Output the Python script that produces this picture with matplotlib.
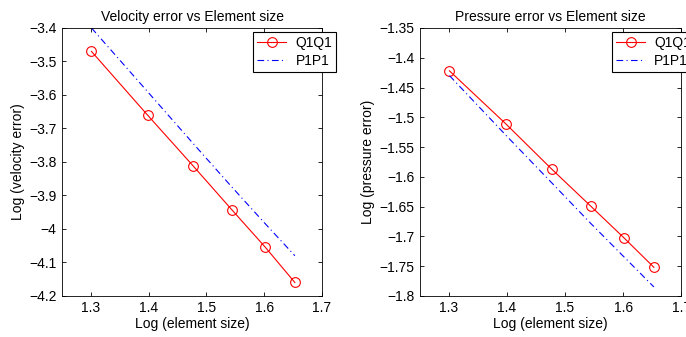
import matplotlib.pyplot as plt

plt.rcParams['font.family'] = ['Liberation Sans', 'DejaVu Sans']
plt.rcParams['font.size'] = 10

# log10 of element size
log_h = [1.301, 1.398, 1.477, 1.544, 1.602, 1.653]

vel_q1q1 = [-3.470, -3.660, -3.812, -3.943, -4.055, -4.160]
vel_p1p1 = [-3.400, -3.590, -3.745, -3.875, -3.985, -4.080]

pres_q1q1 = [-1.422, -1.511, -1.587, -1.649, -1.703, -1.752]
pres_p1p1 = [-1.430, -1.530, -1.610, -1.678, -1.735, -1.785]

panels = [
    ("Velocity error vs Element size", "Log (velocity error)",
     vel_q1q1, vel_p1p1, (-4.2, -3.4), [-4.2, -4.1, -4, -3.9, -3.8, -3.7, -3.6, -3.5, -3.4]),
    ("Pressure error vs Element size", "Log (pressure error)",
     pres_q1q1, pres_p1p1, (-1.8, -1.35), [-1.8, -1.75, -1.7, -1.65, -1.6, -1.55, -1.5, -1.45, -1.4, -1.35]),
]

fig = plt.figure(figsize=(6.86, 3.37), dpi=100)
positions = [[0.0904, 0.122, 0.379, 0.795], [0.612, 0.122, 0.381, 0.795]]

for pos, (title, ylabel, q, p, ylim, yticks) in zip(positions, panels):
    ax = fig.add_axes(pos)
    ax.plot(log_h, q, color='red', lw=0.8, marker='o', ms=7, mfc='none',
            mec='red', mew=0.8, label='Q1Q1')
    ax.plot(log_h, p, color='blue', lw=0.8, ls=(0, (6, 3, 1, 3)), label='P1P1')
    ax.set_xlim(1.25, 1.7)
    ax.set_ylim(*ylim)
    ax.set_xticks([1.3, 1.4, 1.5, 1.6, 1.7])
    ax.set_yticks(yticks)
    ax.set_yticklabels([('%g' % t).replace('-', '\u2212') for t in yticks])
    ax.tick_params(direction='in', length=3, width=0.6, labelsize=10, pad=4)
    ax.tick_params(top=True, right=True)
    for s in ax.spines.values():
        s.set_linewidth(0.6)
    ax.set_title(title, fontsize=10, pad=5)
    ax.set_xlabel("Log (element size)", labelpad=1)
    ax.set_ylabel(ylabel, labelpad=3)
    # legend sticks out past the right spine, as in the original
    leg = ax.legend(loc='upper left', bbox_to_anchor=(0.735, 0.985),
                    fancybox=False, edgecolor='black', framealpha=1,
                    borderaxespad=0, handlelength=2.1, borderpad=0.3,
                    labelspacing=0.25, handletextpad=0.65)
    leg.get_frame().set_linewidth(0.8)

fig.savefig("out.png", dpi=100)
